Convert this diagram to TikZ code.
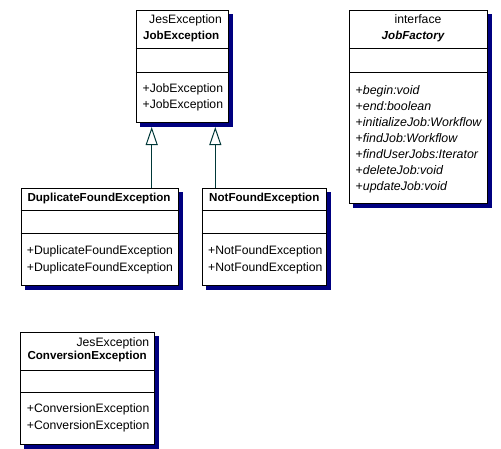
\documentclass[tikz,border=0pt]{standalone}
\usepackage{fontspec}
\setmainfont{Liberation Sans}
\usetikzlibrary{backgrounds,arrows.meta}
\definecolor{navyshadow}{RGB}{0,0,128}
\definecolor{inhcol}{RGB}{0,56,56}
\tikzset{
  cls/.style={draw=black, line width=1pt, fill=white, inner sep=0pt, anchor=north west},
  txt/.style={inner sep=0pt, font=\fontsize{12.2}{14}\selectfont},
  btxt/.style={inner sep=0pt, font=\fontsize{11.6}{14}\selectfont\bfseries},
  itxt/.style={inner sep=0pt, anchor=base west, font=\fontsize{12.4}{14}\selectfont\itshape},
  lt/.style={txt, anchor=base west},
  rt/.style={txt, anchor=base east},
  ct/.style={txt, anchor=base},
  bl/.style={btxt, anchor=base west},
  div/.style={draw=black, line width=1pt},
  shad/.style={fill=navyshadow},
  inh/.style={draw=inhcol, line width=1pt, -{Triangle[open, length=18pt, width=12pt]}}
}
\newcommand{\boxshadow}[1]{%
  \begin{scope}[on background layer]
  \fill[shad] ([shift={(4,4)}]#1.north west) rectangle ([shift={(4,4)}]#1.south east);
  \end{scope}}
\begin{document}
\begin{tikzpicture}[x=1pt, y=-1pt]
\useasboundingbox (0,0) rectangle (501,448);
% JobException
\node[cls, minimum width=92.5pt, minimum height=112pt] (job) at (135.5,10) {};
\boxshadow{job}
\draw[div] (job.west |- 0,48) -- (job.east |- 0,48);
\draw[div] (job.west |- 0,72) -- (job.east |- 0,72);
\node[rt] (jobpkg) at (222,23.3) {JesException};
\node[bl] (jobname) at (143,39.3) {JobException};
\node[lt] (jobm1) at (142.5,92.3) {+JobException};
\node[lt] (jobm2) at (142.5,108.3) {+JobException};
% JobFactory
\node[cls, minimum width=138pt, minimum height=193pt] (fac) at (349,10) {};
\boxshadow{fac}
\draw[div] (fac.west |- 0,48) -- (fac.east |- 0,48);
\draw[div] (fac.west |- 0,72) -- (fac.east |- 0,72);
\node[ct] (facst) at (418,23.3) {interface};
\node[btxt, anchor=base] (facname) at (413,39.3) {\itshape JobFactory};
\node[itxt] (facm1) at (355.5,94) {\upshape+\itshape begin:void};
\node[itxt] (facm2) at (355.5,110) {\upshape+\itshape end:boolean};
\node[itxt] (facm3) at (355.5,126) {\upshape+\itshape initializeJob:Workflow};
\node[itxt] (facm4) at (355.5,142) {\upshape+\itshape findJob:Workflow};
\node[itxt] (facm5) at (355.5,158) {\upshape+\itshape findUserJobs:Iterator};
\node[itxt] (facm6) at (355.5,174) {\upshape+\itshape deleteJob:void};
\node[itxt] (facm7) at (355.5,190) {\upshape+\itshape updateJob:void};
% DuplicateFoundException
\node[cls, minimum width=157.3pt, minimum height=97pt] (dup) at (20.7,188) {};
\boxshadow{dup}
\draw[div] (dup.west |- 0,210) -- (dup.east |- 0,210);
\draw[div] (dup.west |- 0,233) -- (dup.east |- 0,233);
\node[bl] (dupname) at (27.3,201) {DuplicateFoundException};
\node[lt] (dupm1) at (26.7,254.3) {+DuplicateFoundException};
\node[lt] (dupm2) at (26.7,271) {+DuplicateFoundException};
% NotFoundException
\node[cls, minimum width=124.3pt, minimum height=97pt] (nf) at (201.7,188) {};
\boxshadow{nf}
\draw[div] (nf.west |- 0,210) -- (nf.east |- 0,210);
\draw[div] (nf.west |- 0,233) -- (nf.east |- 0,233);
\node[bl] (nfname) at (209,201) {NotFoundException};
\node[lt] (nfm1) at (208,254.3) {+NotFoundException};
\node[lt] (nfm2) at (208,271) {+NotFoundException};
% ConversionException
\node[cls, minimum width=134pt, minimum height=112pt] (conv) at (20,332) {};
\boxshadow{conv}
\draw[div] (conv.west |- 0,370) -- (conv.east |- 0,370);
\draw[div] (conv.west |- 0,392) -- (conv.east |- 0,392);
\node[rt] (convpkg) at (149.3,346) {JesException};
\node[bl] (convname) at (27.3,359.3) {ConversionException};
\node[lt] (convm1) at (26.7,412.7) {+ConversionException};
\node[lt] (convm2) at (26.7,429.3) {+ConversionException};
% inheritance
\coordinate (jobshadow) at ([yshift=-4pt]job.south);
\draw[inh] (151.7,0 |- dup.north) -- (151.7,0 |- jobshadow);
\draw[inh] (215.3,0 |- nf.north) -- (215.3,0 |- jobshadow);
\end{tikzpicture}
\end{document}
